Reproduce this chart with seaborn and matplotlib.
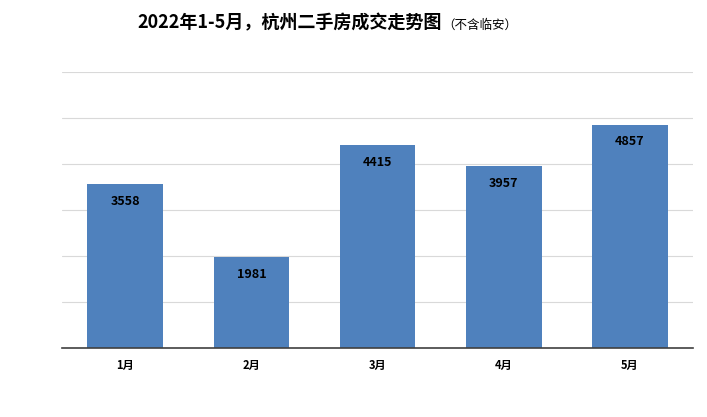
import matplotlib.pyplot as plt
import seaborn as sns
import pandas as pd

months = ['1月', '2月', '3月', '4月', '5月']
volumes = [3558, 1981, 4415, 3957, 4857]

df = pd.DataFrame({'month': months, 'volume': volumes})

sns.set_style("white")
plt.rcParams['font.family'] = ['Noto Sans CJK SC', 'DejaVu Sans']

fig = plt.figure(figsize=(7.07, 4.17), dpi=100)
ax = fig.add_axes([0.088, 0.165, 0.892, 0.662])
sns.barplot(data=df, x='month', y='volume', color='#4f81bd', saturation=1, width=0.6,
            edgecolor='none', linewidth=0, ax=ax)

ax.set_ylim(0, 6000)
ax.set_yticks(range(0, 6001, 1000))
ax.yaxis.grid(True, color='#d9d9d9', linewidth=0.8)
ax.set_axisbelow(True)
ax.tick_params(axis='y', left=False, labelleft=False)
ax.tick_params(axis='x', length=0, pad=8)
for lbl in ax.get_xticklabels():
    lbl.set_fontsize(8)
    lbl.set_fontweight('bold')
    lbl.set_color('black')
for s in ['top', 'right', 'left']:
    ax.spines[s].set_visible(False)
ax.spines['bottom'].set_color('#404040')
ax.spines['bottom'].set_linewidth(1.2)
ax.set_xlabel('')
ax.set_ylabel('')

for i, v in enumerate(volumes):
    ax.text(i, v - 370, str(v), ha='center', va='center', fontsize=9, fontweight='bold', color='black')

fig.text(0.625, 0.945, '2022年1-5月，杭州二手房成交走势图', ha='right', va='center',
         fontsize=13, fontweight='bold', color='black')
fig.text(0.625, 0.94, '（不含临安）', ha='left', va='center', fontsize=9, color='black')

plt.savefig('out.png', dpi=100)
